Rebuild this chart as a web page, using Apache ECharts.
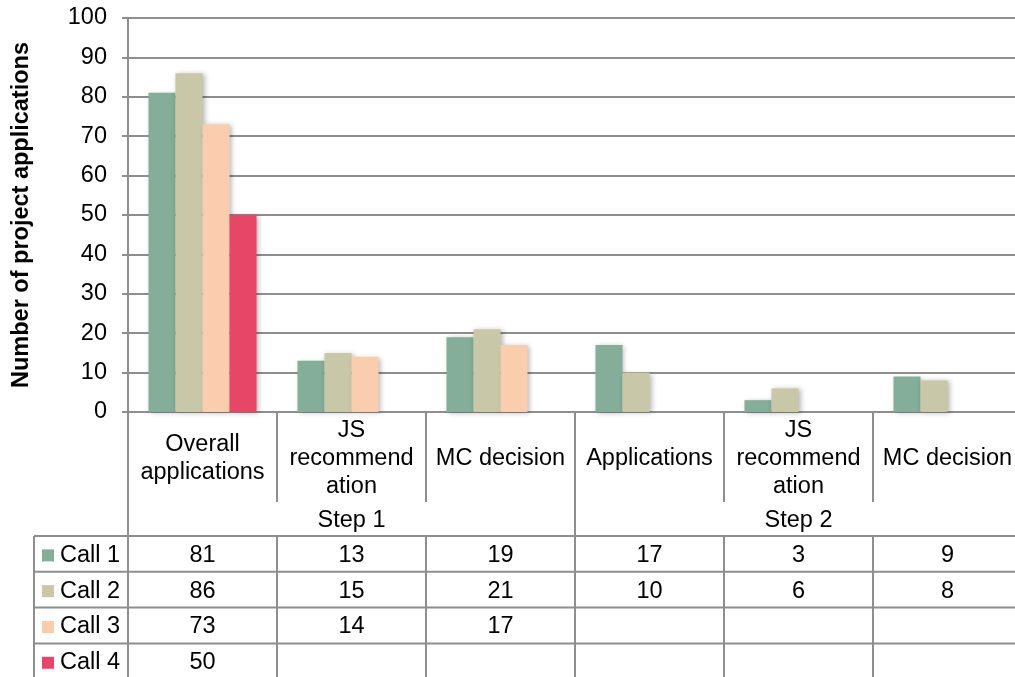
<!DOCTYPE html>
<html>
<head>
<meta charset="utf-8">
<script src="https://cdn.jsdelivr.net/npm/echarts@6/dist/echarts.min.js"></script>
<style>
  html, body { margin: 0; padding: 0; background: #fff; overflow: hidden; }
  #chart { width: 1022px; height: 677px; }
</style>
</head>
<body>
<div id="chart"></div>
<script>
// Category labels (wrapped as they appear under the bars)
const categories = ['Overall\napplications', 'JS\nrecommend\nation', 'MC decision',
                    'Applications', 'JS\nrecommend\nation', 'MC decision'];
// Step grouping of the categories
const stepLabels = ['Step 1', 'Step 2'];
const stepSpans = [3, 3];
// Series
const seriesNames = ['Call 1', 'Call 2', 'Call 3', 'Call 4'];
const call1 = [81, 13, 19, 17, 3, 9];
const call2 = [86, 15, 21, 10, 6, 8];
const call3 = [73, 14, 17, null, null, null];
const call4 = [50, null, null, null, null, null];
const seriesData = [call1, call2, call3, call4];
const seriesColors = ['#84ad9a', '#c8c7a7', '#f9cdae', '#e84666'];
// Value axis
const yMin = 0, yMax = 100, yStep = 10;
const yTitle = 'Number of project applications';

const FONT = 'Liberation Sans, Arial, sans-serif';
const FS = 23.5;
const LINE = '#8e8e8e';

const chart = echarts.init(document.getElementById('chart'), null, { renderer: 'canvas' });

const option = {
  animation: false,
  backgroundColor: '#fff',
  textStyle: { fontFamily: FONT },
  grid: { left: 128, top: 18, right: 0, height: 394, containLabel: false },
  xAxis: {
    type: 'category',
    data: categories,
    axisLine: { show: true, lineStyle: { color: LINE, width: 2 } },
    axisTick: { show: true, length: 90, lineStyle: { color: LINE, width: 2 } },
    axisLabel: {
      interval: 0, margin: 47, verticalAlign: 'middle',
      fontSize: FS, lineHeight: 28, color: '#000', fontFamily: FONT
    },
    splitLine: { show: false }
  },
  yAxis: {
    type: 'value',
    min: yMin, max: yMax, interval: yStep,
    name: yTitle,
    nameLocation: 'middle',
    nameRotate: 90,
    nameGap: 94,
    nameTextStyle: { fontSize: FS, fontWeight: 'bold', color: '#000', fontFamily: FONT },
    axisLine: { show: true, lineStyle: { color: LINE, width: 2 } },
    axisTick: { show: true, length: 6, lineStyle: { color: LINE, width: 2 } },
    axisLabel: { margin: 21, fontSize: FS, color: '#000', fontFamily: FONT },
    splitLine: { show: true, lineStyle: { color: LINE, width: 2 } }
  },
  series: seriesNames.map((name, i) => ({
    name,
    type: 'bar',
    data: seriesData[i],
    barGap: '0%',
    barCategoryGap: '27.5%',
    itemStyle: {
      color: seriesColors[i],
      shadowColor: 'rgba(0,0,0,0.28)',
      shadowBlur: 5,
      shadowOffsetX: 2,
      shadowOffsetY: 1
    }
  }))
};

chart.setOption(option);

// Data table below the axis, placed from the category axis scale
const c0 = chart.convertToPixel({ xAxisIndex: 0 }, 0);
const c1 = chart.convertToPixel({ xAxisIndex: 0 }, 1);
const band = c1 - c0;
const leftX = c0 - band / 2;
const rightX = leftX + band * categories.length;
const axisY = chart.convertToPixel({ yAxisIndex: 0 }, yMin);
const labelBottom = axisY + 90;
const tableTop = 536;
const rowH = 35.8;
const tableBottom = 679;
const legendLeft = 34;

const g = [];
const line = (x1, y1, x2, y2) => g.push({
  type: 'line', silent: true, z: 10,
  shape: { x1, y1, x2, y2 },
  style: { stroke: LINE, lineWidth: 2 }
});
const text = (t, x, y, align) => g.push({
  type: 'text', silent: true, z: 11,
  style: { text: t, x, y, align: align || 'center', verticalAlign: 'middle',
           fontSize: FS, fontFamily: FONT, fill: '#000' }
});

// Step header row
let start = 0;
stepLabels.forEach((s, k) => {
  const x1 = leftX + start * band;
  const x2 = leftX + (start + stepSpans[k]) * band;
  text(s, (x1 + x2) / 2, (labelBottom + tableTop) / 2 + 2);
  if (start > 0) line(x1, axisY, x1, tableBottom);
  start += stepSpans[k];
});

// Left border of the plot column and legend column
line(leftX, axisY, leftX, tableBottom);
line(legendLeft, tableTop, legendLeft, tableBottom);

// Horizontal rules
for (let r = 0; r < seriesNames.length; r++) {
  line(legendLeft, tableTop + r * rowH, rightX, tableTop + r * rowH);
}
// Column rules inside the table
for (let c = 1; c < categories.length; c++) {
  const x = leftX + c * band;
  line(x, tableTop, x, tableBottom);
}

// Rows: legend key + values
seriesNames.forEach((name, r) => {
  const cy = tableTop + r * rowH + rowH / 2 + 1.5;
  g.push({
    type: 'rect', silent: true, z: 11,
    shape: { x: 42, y: cy - 6, width: 12, height: 12 },
    style: { fill: seriesColors[r] }
  });
  text(name, 60, cy, 'left');
  seriesData[r].forEach((v, c) => {
    if (v !== null && v !== undefined) text(String(v), leftX + c * band + band / 2, cy);
  });
});

chart.setOption({ graphic: { elements: g } });
</script>
</body>
</html>
